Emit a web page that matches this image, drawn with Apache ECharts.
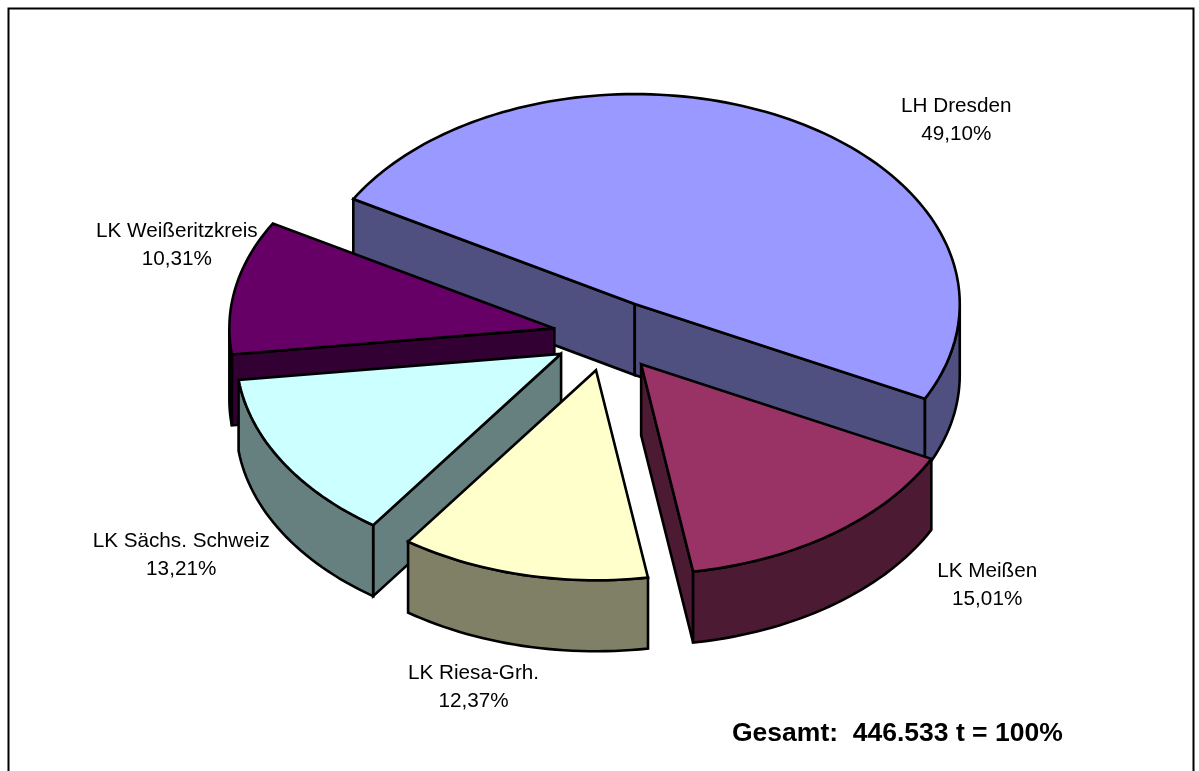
<!DOCTYPE html>
<html>
<head>
<meta charset="utf-8">
<style>html,body{margin:0;padding:0;background:#fff}#chart{width:1199px;height:771px}</style>
<script src="https://cdn.jsdelivr.net/npm/echarts@6/dist/echarts.min.js"></script>
</head>
<body>
<div id="chart"></div>
<script>
// Data
var categories = ['LH Dresden', 'LK Meißen', 'LK Riesa-Grh.', 'LK Sächs. Schweiz', 'LK Weißeritzkreis'];
var shares = [49.10, 15.01, 12.37, 13.21, 10.31];
var totalLabel = 'Gesamt:  446.533 t = 100%';

// Styles
var topColors = ['#9999FF', '#993366', '#FFFFCC', '#CCFFFF', '#660066'];
var wallColors = ['#4F4F80', '#4D1A33', '#808066', '#668080', '#330033'];
var paintOrder = [0, 4, 3, 2, 1];
var labelShift = [[167, 1], [154, 52], [-49, 112], [-101, 94], [-59, -41]];

// Projection of the pie
var pie = { cx: 608.5, cy: 335.5, rx: 325, ry: 210, depth: 71, explode: 0.17, startDeg: 300 };

var sum = shares.reduce(function (a, b) { return a + b; }, 0);
function rad(d) { return d * Math.PI / 180; }
function onRim(c, deg, dy) {
  return [c[0] + pie.rx * Math.sin(rad(deg)), c[1] - pie.ry * Math.cos(rad(deg)) + (dy || 0)];
}
function arc(c, a, b, dy) {
  var n = Math.max(2, Math.ceil(Math.abs(b - a) / 1.5)), pts = [];
  for (var i = 0; i <= n; i++) pts.push(onRim(c, a + (b - a) * i / n, dy));
  return pts;
}
var lineStyle = { stroke: '#000', lineWidth: 2.6, lineJoin: 'miter', miterLimit: 3 };
function poly(points, fill, z2) {
  return { type: 'polygon', shape: { points: points }, z2: z2,
           style: Object.assign({ fill: fill }, lineStyle) };
}
function renderSlice(params, api) {
  var i = params.dataIndex, before = 0;
  for (var k = 0; k < i; k++) before += shares[k];
  var a = pie.startDeg + before / sum * 360;
  var b = a + api.value(0) / sum * 360;
  var mid = (a + b) / 2;
  var c = [pie.cx + pie.explode * pie.rx * Math.sin(rad(mid)),
           pie.cy - pie.explode * pie.ry * Math.cos(rad(mid))];
  var base = paintOrder.indexOf(i) * 10, kids = [], d = pie.depth;
  var wall = wallColors[i];

  // radial walls that face the viewer
  [[a, Math.sin(rad(a)) < 0], [b, Math.sin(rad(b)) > 0]].forEach(function (w) {
    if (w[1]) {
      var p = onRim(c, w[0]);
      kids.push(poly([c, p, [p[0], p[1] + d], [c[0], c[1] + d]], wall, base + 1));
    }
  });
  // front part of the outer wall (rim angles 90..270, also modulo 360)
  [0, 360].forEach(function (turn) {
    var from = Math.max(a, 90 + turn), to = Math.min(b, 270 + turn);
    if (to > from) {
      kids.push(poly(arc(c, from, to, 0).concat(arc(c, to, from, d)), wall, base + 2));
    }
  });
  // top face
  kids.push(poly([c].concat(arc(c, a, b, 0)), topColors[i], base + 3));
  // label
  var m = onRim(c, mid);
  kids.push({ type: 'text', z2: 200, x: m[0] + labelShift[i][0], y: m[1] + labelShift[i][1],
    style: { text: categories[i] + '\n' + api.value(0).toFixed(2).replace('.', ',') + '%',
             fill: '#000', font: '20.7px "Liberation Sans", Arial, sans-serif',
             align: 'center', verticalAlign: 'middle', lineHeight: 28 } });
  return { type: 'group', children: kids };
}

var chart = echarts.init(document.getElementById('chart'), null, { renderer: 'canvas' });
chart.setOption({
  animation: false,
  backgroundColor: '#fff',
  graphic: [
    { type: 'rect', z: 0, silent: true, shape: { x: 8.5, y: 8.5, width: 1185, height: 800 },
      style: { fill: '#fff', stroke: '#000', lineWidth: 2 } },
    { type: 'text', z: 10, silent: true, x: 732, y: 733.5,
      style: { text: totalLabel, fill: '#000', font: 'bold 26.5px "Liberation Sans", Arial, sans-serif',
               align: 'left', verticalAlign: 'middle' } }
  ],
  series: [{
    type: 'custom',
    coordinateSystem: 'none',
    z: 5,
    silent: true,
    renderItem: renderSlice,
    data: categories.map(function (name, i) { return { name: name, value: [shares[i]] }; })
  }]
});
</script>
</body>
</html>
